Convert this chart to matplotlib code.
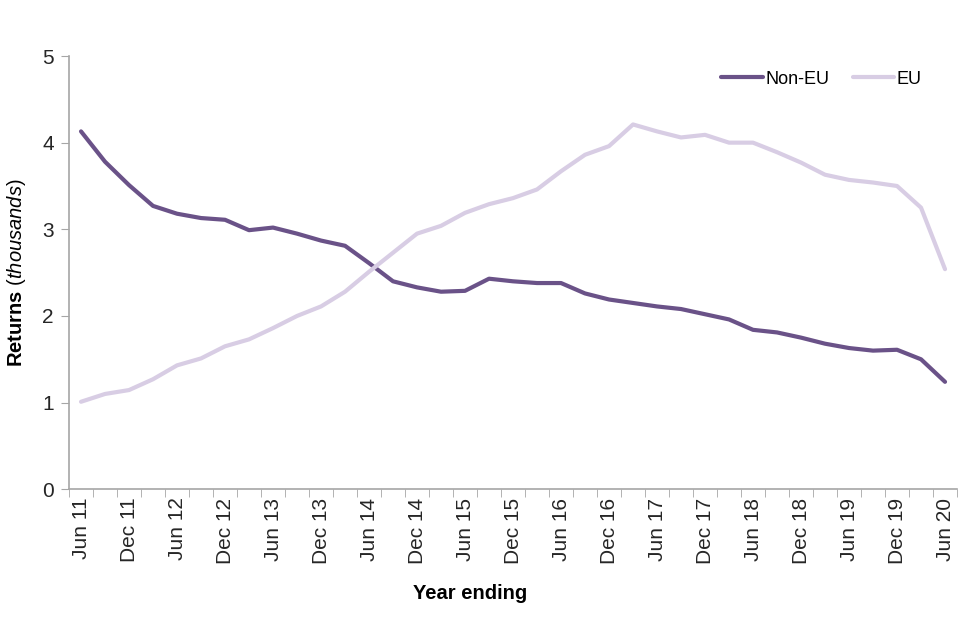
import matplotlib
matplotlib.use("Agg")
import matplotlib.pyplot as plt
import numpy as np

plt.rcParams['font.family'] = ['Liberation Sans', 'DejaVu Sans']
plt.rcParams['mathtext.fontset'] = 'custom'
plt.rcParams['mathtext.rm'] = 'Liberation Sans'
plt.rcParams['mathtext.it'] = 'Liberation Sans:italic'
plt.rcParams['mathtext.bf'] = 'Liberation Sans:bold'

# quarterly, year ending Jun 11 .. Jun 20
quarters = []
for yr in range(11, 21):
    for m in ["Mar", "Jun", "Sep", "Dec"]:
        quarters.append(m + " " + str(yr))
quarters = quarters[1:38]

non_eu = [4.13, 3.78, 3.51, 3.27, 3.18, 3.13, 3.11, 2.99, 3.02, 2.95, 2.87, 2.81,
          2.61, 2.40, 2.33, 2.28, 2.29, 2.43, 2.40, 2.38, 2.38, 2.26, 2.19, 2.15,
          2.11, 2.08, 2.02, 1.96, 1.84, 1.81, 1.75, 1.68, 1.63, 1.60, 1.61, 1.50, 1.24]
eu = [1.01, 1.10, 1.145, 1.27, 1.43, 1.51, 1.65, 1.73, 1.86, 2.00, 2.11, 2.28,
      2.51, 2.73, 2.95, 3.04, 3.19, 3.29, 3.36, 3.46, 3.67, 3.86, 3.96, 4.21,
      4.13, 4.06, 4.09, 4.00, 4.00, 3.89, 3.77, 3.63, 3.57, 3.54, 3.50, 3.25, 2.54]

dark = "#6a5288"
light = "#d8cde4"
grey = "#a6a6a6"

fig = plt.figure(figsize=(9.6, 6.4), dpi=100)
ax = fig.add_axes([0.0719, 0.2355, 0.925, 0.677])

x = np.arange(len(quarters))
ax.plot(x, non_eu, color=dark, lw=3, label="Non-EU", solid_capstyle="round")
ax.plot(x, eu, color=light, lw=3, label="EU", solid_capstyle="round")

ax.set_xlim(-0.5, len(quarters) - 0.5)
ax.set_ylim(0, 5)
ax.set_yticks([0, 1, 2, 3, 4, 5])

ax.set_xticks(x[::2])
ax.set_xticklabels(quarters[::2], rotation=90, fontsize=15, color="#262626")
ax.set_xticks(np.arange(-0.5, len(quarters), 1), minor=True)
ax.tick_params(axis="x", which="major", length=0, pad=6)
ax.tick_params(axis="x", which="minor", length=6, color=grey, direction="out")
ax.tick_params(axis="y", length=6, color=grey, labelsize=15, labelcolor="#262626", pad=5)

for s in ["top", "right"]:
    ax.spines[s].set_visible(False)
for s in ["left", "bottom"]:
    ax.spines[s].set_color(grey)
    ax.spines[s].set_linewidth(1.2)

ax.set_ylabel(r"$\mathbf{Returns}\ \mathit{(thousands)}$", fontsize=14.5, labelpad=10)
ax.set_xlabel("Year ending", fontsize=14.5, fontweight="bold")
ax.xaxis.set_label_coords((470 - 69) / 888, -(593 - 489) / 433.3 , transform=ax.transAxes)
ax.xaxis.label.set_va("center")

ax.legend(loc="center right", bbox_to_anchor=(922 / 960, 1 - 79 / 640), bbox_transform=fig.transFigure,
          ncol=2, frameon=False, fontsize=13, handlelength=2.3, handletextpad=0.15,
          columnspacing=1.3, borderpad=0, borderaxespad=0)

plt.savefig("out.png", dpi=100)
